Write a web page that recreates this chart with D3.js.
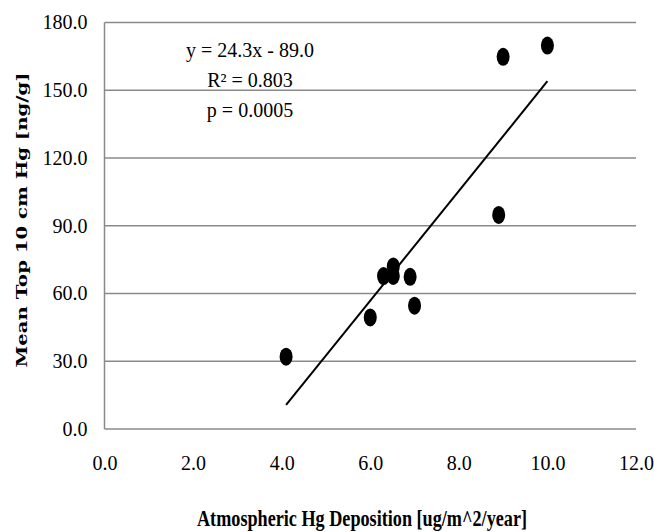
<!DOCTYPE html>
<html><head><meta charset="utf-8">
<script src="https://cdn.jsdelivr.net/npm/d3@7/dist/d3.min.js"></script>
<style>body{margin:0;background:#fff}svg{display:block}</style>
</head><body>
<svg id="c" width="654" height="532"></svg>
<script>
const xValues = [4.1, 6.0, 6.3, 6.52, 6.52, 6.9, 7.0, 8.9, 9.0, 10.0];
const yValues = [32.0, 49.4, 67.7, 72.0, 67.8, 67.4, 54.6, 94.8, 164.8, 169.8];
const xTicks = [0, 2, 4, 6, 8, 10, 12];
const yTicks = [0, 30, 60, 90, 120, 150, 180];
const trendSlope = 24.3, trendIntercept = -89.0;
const annotations = ["y = 24.3x - 89.0", "R² = 0.803", "p = 0.0005"];
const xTitle = "Atmospheric Hg Deposition [ug/m^2/year]";
const yTitle = "Mean Top 10 cm Hg  [ng/g]";

const svg = d3.select("#c");
const L = 104.5, R = 636, T = 22.5, B = 429;
const x = d3.scaleLinear().domain([0, 12]).range([L, R]);
const y = d3.scaleLinear().domain([0, 180]).range([B, T]);
const serif = "'Liberation Serif','Times New Roman',serif";
const grid = "#8a8a8a";

// gridlines
svg.append("g").selectAll("line").data(yTicks.filter(d => d > 0)).join("line")
  .attr("x1", L).attr("x2", R).attr("y1", d => y(d)).attr("y2", d => y(d))
  .attr("stroke", grid).attr("stroke-width", 1.3);
// axes lines
svg.append("line").attr("x1", L).attr("x2", R).attr("y1", B).attr("y2", B).attr("stroke", grid).attr("stroke-width", 1.5);
svg.append("line").attr("x1", L).attr("x2", L).attr("y1", T).attr("y2", B).attr("stroke", grid).attr("stroke-width", 1.5);

// axes via d3
const yAxis = svg.append("g").attr("transform", `translate(${L},0)`)
  .call(d3.axisLeft(y).tickValues(yTicks).tickFormat(d3.format(".1f")).tickSize(0).tickPadding(17));
const xAxis = svg.append("g").attr("transform", `translate(0,${B})`)
  .call(d3.axisBottom(x).tickValues(xTicks).tickFormat(d3.format(".1f")).tickSize(0).tickPadding(27));
[yAxis, xAxis].forEach(a => {
  a.select(".domain").remove();
  a.selectAll("text").attr("font-family", serif).attr("font-size", 20).attr("fill", "#000");
});

// trend line
const tx = d3.extent(xValues);
svg.append("line")
  .attr("x1", x(tx[0])).attr("y1", y(trendSlope * tx[0] + trendIntercept))
  .attr("x2", x(tx[1])).attr("y2", y(trendSlope * tx[1] + trendIntercept))
  .attr("stroke", "#000").attr("stroke-width", 2);

// points
svg.append("g").selectAll("ellipse").data(xValues.map((v, i) => [v, yValues[i]])).join("ellipse")
  .attr("cx", d => x(d[0])).attr("cy", d => y(d[1]))
  .attr("rx", 6.5).attr("ry", 9).attr("fill", "#000");

// annotation
svg.append("g").selectAll("text").data(annotations).join("text")
  .attr("x", 250).attr("y", (d, i) => 57 + i * 30)
  .attr("text-anchor", "middle").attr("font-family", serif).attr("font-size", 20)
  .text(d => d);

// titles
svg.append("text").attr("x", 362).attr("y", 526)
  .attr("text-anchor", "middle").attr("font-family", serif).attr("font-weight", "bold")
  .attr("font-size", 23).attr("textLength", 330).attr("lengthAdjust", "spacingAndGlyphs")
  .text(xTitle);
svg.append("text").attr("transform", "translate(27,220) rotate(-90)")
  .attr("text-anchor", "middle").attr("font-family", "'DejaVu Serif',serif").attr("font-weight", "bold")
  .attr("font-size", 15).attr("textLength", 295).attr("lengthAdjust", "spacingAndGlyphs")
  .text(yTitle);
</script>
</body></html>
